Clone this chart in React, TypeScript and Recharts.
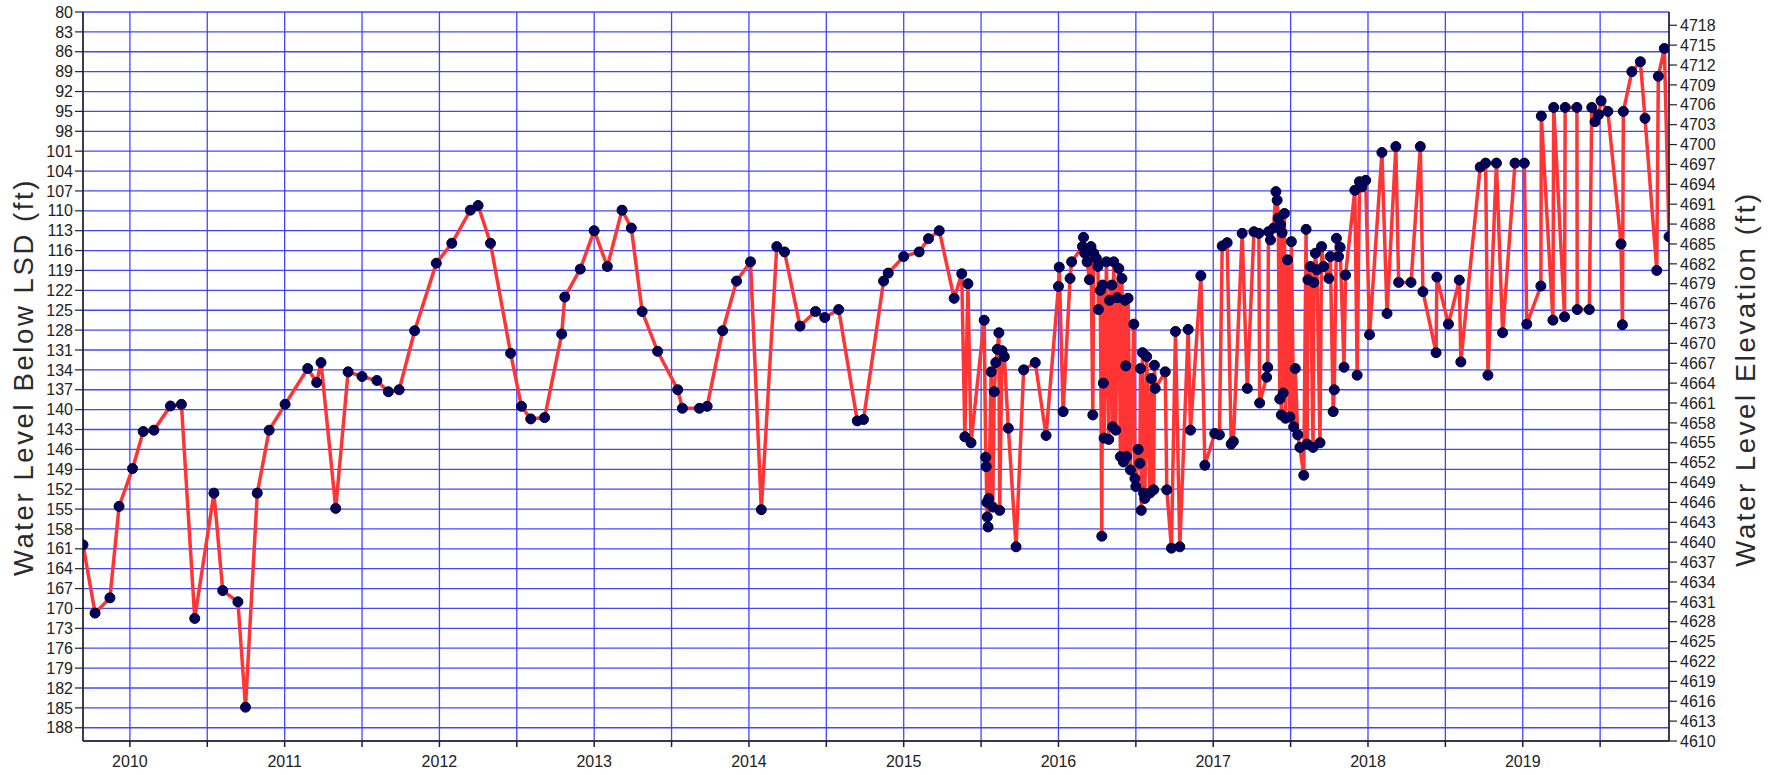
import React from "react";
import { LineChart, Line, XAxis, YAxis, CartesianGrid } from "recharts";

// Observation dates (decimal years)
const obsYear: number[] = [
  2009.697, 2009.775, 2009.871, 2009.93, 2010.017, 2010.086, 2010.155, 2010.262, 2010.333, 2010.419,
  2010.543, 2010.6, 2010.698, 2010.747, 2010.823, 2010.9, 2011.003, 2011.149, 2011.207, 2011.235,
  2011.33, 2011.41, 2011.5, 2011.596, 2011.67, 2011.74,
  2011.84, 2011.98, 2012.08, 2012.2, 2012.25, 2012.33, 2012.46, 2012.53, 2012.59, 2012.68,
  2012.79, 2012.81, 2012.91, 2013.0, 2013.085, 2013.18, 2013.24, 2013.31, 2013.41, 2013.54,
  2013.57, 2013.68, 2013.73, 2013.83, 2013.92, 2014.01, 2014.08, 2014.18, 2014.23, 2014.33,
  2014.43, 2014.49, 2014.58, 2014.7, 2014.74, 2014.87, 2014.9, 2015.0, 2015.1, 2015.16, 2015.23,
  2015.326, 2015.375, 2015.395, 2015.415, 2015.435, 2015.52, 2015.53, 2015.533, 2015.537, 2015.54,
  2015.545, 2015.55, 2015.565, 2015.575, 2015.585, 2015.595, 2015.605, 2015.615, 2015.62, 2015.635,
  2015.65, 2015.676, 2015.726, 2015.775, 2015.85, 2015.92, 2016.0, 2016.005, 2016.03, 2016.075, 2016.085,
  2016.155, 2016.162, 2016.17, 2016.185, 2016.2, 2016.21, 2016.222, 2016.228, 2016.245, 2016.255,
  2016.258, 2016.27, 2016.28, 2016.285, 2016.29, 2016.295, 2016.31, 2016.325, 2016.33, 2016.345,
  2016.35, 2016.357, 2016.37, 2016.38, 2016.39, 2016.4, 2016.41, 2016.42, 2016.43, 2016.435,
  2016.44, 2016.45, 2016.465, 2016.487, 2016.494, 2016.5, 2016.515, 2016.526, 2016.53, 2016.535,
  2016.543, 2016.55, 2016.558, 2016.57, 2016.59, 2016.6, 2016.615, 2016.62, 2016.625, 2016.69,
  2016.7, 2016.73, 2016.756, 2016.784, 2016.838, 2016.853, 2016.92, 2016.946, 2017.01, 2017.04,
  2017.058, 2017.09, 2017.116, 2017.13, 2017.187, 2017.22, 2017.263, 2017.295, 2017.3, 2017.345,
  2017.352, 2017.357, 2017.37, 2017.39, 2017.405, 2017.413, 2017.42, 2017.43, 2017.435, 2017.44,
  2017.445, 2017.452, 2017.46, 2017.467, 2017.48, 2017.495, 2017.505, 2017.52, 2017.53, 2017.546,
  2017.56, 2017.585, 2017.6, 2017.607, 2017.612, 2017.628, 2017.645, 2017.65, 2017.66, 2017.67,
  2017.69, 2017.7, 2017.714, 2017.747, 2017.757, 2017.775, 2017.782, 2017.796, 2017.81, 2017.82,
  2017.845, 2017.855, 2017.915, 2017.93, 2017.945, 2017.96, 2017.985, 2018.01,
  2018.09, 2018.123, 2018.18, 2018.198, 2018.278, 2018.338, 2018.355, 2018.44, 2018.445, 2018.52,
  2018.59, 2018.6, 2018.725, 2018.76, 2018.775, 2018.83, 2018.87, 2018.95, 2019.01, 2019.026,
  2019.117, 2019.12, 2019.195, 2019.2, 2019.27, 2019.274, 2019.35, 2019.352, 2019.43, 2019.446,
  2019.467, 2019.49, 2019.506, 2019.55, 2019.635, 2019.644, 2019.65, 2019.705, 2019.76, 2019.79,
  2019.866, 2019.876, 2019.915, 2019.945,
];

// Water level below land surface datum (ft)
const depthBelowLsd: number[] = [
  160.4, 170.7, 168.4, 154.6, 148.9, 143.3, 143.1, 139.45, 139.2, 171.5,
  152.6, 167.3, 169.0, 184.9, 152.6, 143.1, 139.2, 133.8, 135.9, 132.9,
  154.9, 134.3, 135.0, 135.6, 137.3, 137.0,
  128.1, 117.9, 114.9, 109.9, 109.2, 114.9, 131.5, 139.5, 141.4, 141.2,
  128.6, 123.0, 118.8, 113.0, 118.4, 109.9, 112.6, 125.2, 131.2, 137.0,
  139.8, 139.8, 139.5, 128.1, 120.6, 117.7, 155.1, 115.4, 116.2, 127.4,
  125.2, 126.1, 124.9, 141.7, 141.5, 120.6, 119.4, 116.9, 116.2, 114.2, 113.0,
  123.2, 119.5, 144.1, 121.0, 145.0, 126.5, 147.2, 148.6, 154.0, 156.2,
  157.7, 153.4, 134.3, 154.7, 137.3, 132.9, 130.9, 128.4, 155.2, 131.1,
  132.0, 142.8, 160.7, 134.0, 132.9, 143.9, 121.4, 118.5, 140.3, 120.2, 117.7,
  115.4, 114.0, 116.4, 117.7, 120.4, 115.4, 140.8, 116.4, 117.2, 118.4,
  124.9, 122.0, 159.1, 121.2, 136.0, 144.3, 117.7, 144.5, 123.5, 121.2,
  142.6, 117.7, 143.1, 123.1, 118.7, 147.1, 120.2, 147.9, 123.5, 133.4,
  147.1, 123.2, 149.1, 127.1, 150.4, 151.6, 146.0, 148.1, 133.8, 155.2,
  131.4, 152.6, 153.4, 132.0, 152.6, 135.3, 152.1, 133.3, 136.8, 134.3,
  152.1, 160.9, 128.2, 160.7, 127.9, 143.1, 119.8, 148.4, 143.6, 143.8,
  115.3, 114.8, 145.2, 144.8, 113.4, 136.8, 113.15, 113.4, 139.0, 135.1,
  133.6, 113.15, 114.4, 112.6, 107.1, 108.4, 111.1, 138.4, 112.1, 140.8,
  113.3, 137.5, 110.4, 141.3, 117.4, 141.1, 114.65, 142.6, 133.8, 143.8,
  145.7, 149.9, 112.8, 145.2, 120.4, 118.4, 145.7, 120.8, 116.4, 118.9,
  145.0, 115.4, 118.4, 120.2, 116.9, 140.3, 137.0, 114.15, 116.9, 115.5,
  133.6, 119.7, 106.9, 134.8, 105.6, 106.4, 105.4, 128.7,
  101.2, 125.5, 100.3, 120.8, 120.8, 100.3, 122.2, 131.4, 120.0, 127.1,
  120.45, 132.8, 103.4, 102.8, 134.8, 102.8, 128.4, 102.8, 102.8, 127.1,
  121.35, 95.7, 126.5, 94.4, 126.0, 94.4, 94.4, 124.9, 124.9, 94.4,
  96.55, 95.5, 93.4, 95.0, 115.0, 127.2, 95.0, 89.0, 87.5, 96.05,
  119.0, 89.7, 85.5, 113.9,
];

const lsdElevation = 4800;

const yearTicks: number[] = [
  2010, 2010.5, 2011, 2011.5, 2012, 2012.5, 2013, 2013.5, 2014, 2014.5,
  2015, 2015.5, 2016, 2016.5, 2017, 2017.5, 2018, 2018.5, 2019, 2019.5,
];

const depthTicks: number[] = [
  80, 83, 86, 89, 92, 95, 98, 101, 104, 107, 110, 113, 116, 119, 122, 125, 128, 131, 134,
  137, 140, 143, 146, 149, 152, 155, 158, 161, 164, 167, 170, 173, 176, 179, 182, 185, 188,
];

const elevTicks: number[] = [
  4610, 4613, 4616, 4619, 4622, 4625, 4628, 4631, 4634, 4637, 4640, 4643, 4646, 4649, 4652,
  4655, 4658, 4661, 4664, 4667, 4670, 4673, 4676, 4679, 4682, 4685, 4688, 4691, 4694, 4697,
  4700, 4703, 4706, 4709, 4712, 4715, 4718,
];

const leftTitle = "Water Level Below LSD (ft)";
const rightTitle = "Water Level Elevation (ft)";

const data = obsYear.map((t, i) => ({
  t,
  depth: depthBelowLsd[i],
  elev: lsdElevation - depthBelowLsd[i],
}));

const FONT = "'Liberation Sans', Arial, Helvetica, sans-serif";
const TEXT = "#222";
const GRID = "#3b3bff";

const AxisTitle = ({ cx, cy, text }: { cx: number; cy: number; text: string }) => (
  <text
    x={0}
    y={0}
    transform={`translate(${cx} ${cy}) rotate(-90)`}
    textAnchor="middle"
    dominantBaseline="central"
    fontFamily={FONT}
    fontSize={27.5}
    letterSpacing={2.6}
    fill="#2a2a2a"
  >
    {text}
  </text>
);

export default function App() {
  return (
    <div
      style={{
        position: "absolute",
        left: 0,
        top: 0,
        width: 1775,
        height: 775,
        background: "#ffffff",
      }}
    >
      <LineChart
        width={1775}
        height={775}
        data={data}
        margin={{ top: 12, right: 0, bottom: 0, left: 0 }}
      >
        <CartesianGrid
          xAxisId={0}
          yAxisId="left"
          stroke={GRID}
          strokeWidth={1.3}
          strokeOpacity={0.95}
        />
        <XAxis
          dataKey="t"
          type="number"
          domain={[2009.697, 2019.945]}
          allowDataOverflow
          ticks={yearTicks}
          interval={0}
          tickFormatter={(v: number) => (Number.isInteger(v) ? String(v) : "")}
          height={34}
          tickSize={6}
          tickMargin={9}
          axisLine={{ stroke: TEXT, strokeWidth: 1.5 }}
          tickLine={{ stroke: TEXT, strokeWidth: 1.5 }}
          tick={{ fill: TEXT, fontSize: 16, fontFamily: FONT }}
        />
        <YAxis
          yAxisId="left"
          orientation="left"
          type="number"
          domain={[80, 190]}
          allowDataOverflow
          reversed
          ticks={depthTicks}
          interval={0}
          width={83}
          tickSize={8}
          tickMargin={2}
          axisLine={{ stroke: TEXT, strokeWidth: 1.5 }}
          tickLine={{ stroke: TEXT, strokeWidth: 1.2 }}
          tick={{ fill: TEXT, fontSize: 16, fontFamily: FONT }}
        />
        <YAxis
          yAxisId="right"
          orientation="right"
          type="number"
          domain={[4610, 4720]}
          allowDataOverflow
          ticks={elevTicks}
          interval={0}
          width={106}
          tickSize={8}
          tickMargin={3}
          axisLine={{ stroke: TEXT, strokeWidth: 1.5 }}
          tickLine={{ stroke: TEXT, strokeWidth: 1.2 }}
          tick={{ fill: TEXT, fontSize: 16, fontFamily: FONT, textAnchor: "start" }}
        />
        <Line
          yAxisId="right"
          dataKey="elev"
          type="linear"
          stroke="none"
          dot={false}
          activeDot={false}
          isAnimationActive={false}
          legendType="none"
        />
        <Line
          yAxisId="left"
          dataKey="depth"
          type="linear"
          stroke="#ff3535"
          strokeWidth={3.5}
          dot={{ r: 5, fill: "#00005e", stroke: "#000020", strokeWidth: 1 }}
          activeDot={false}
          isAnimationActive={false}
        />
      </LineChart>
      <svg
        width={1775}
        height={775}
        style={{ position: "absolute", left: 0, top: 0, pointerEvents: "none" }}
      >
        <AxisTitle cx={23} cy={377} text={leftTitle} />
        <AxisTitle cx={1745} cy={379} text={rightTitle} />
      </svg>
    </div>
  );
}
